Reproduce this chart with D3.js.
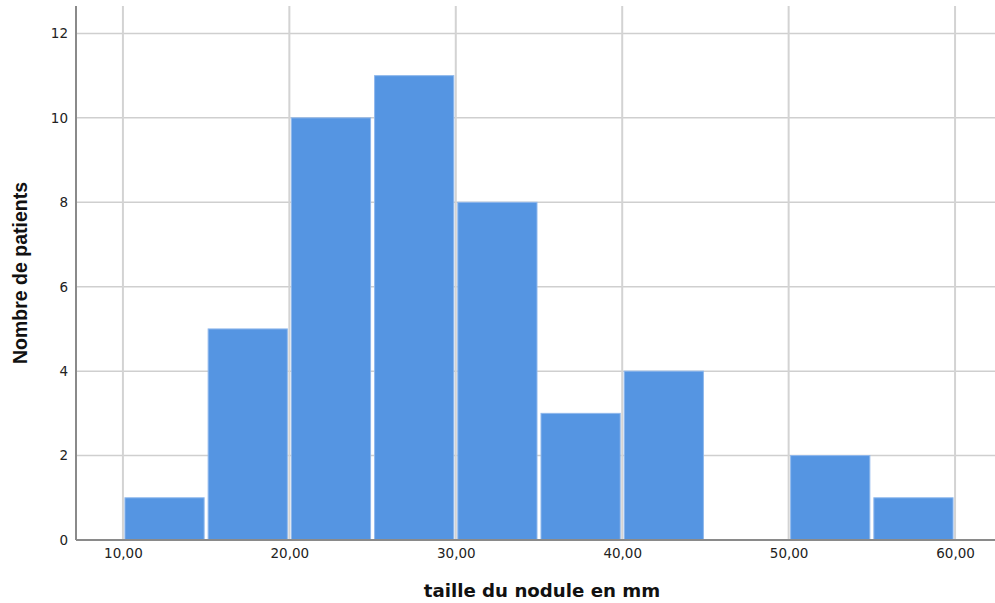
<!DOCTYPE html>
<html><head><meta charset="utf-8">
<script src="https://cdn.jsdelivr.net/npm/d3@7"></script>
<style>body{margin:0;background:#fff;} text{font-family:"DejaVu Sans",Verdana,sans-serif;}</style>
</head><body><svg id="c" width="995" height="603"></svg>
<script>
const binStarts = [10,15,20,25,30,35,40,45,50,55];
const binWidth = 5;
const counts = [1,5,10,11,8,3,4,0,2,1];
const xTicks = [10,20,30,40,50,60];
const yTicks = [0,2,4,6,8,10,12];
const xTickLabels = ["10,00","20,00","30,00","40,00","50,00","60,00"];
const xTitle = "taille du nodule en mm";
const yTitle = "Nombre de patients";

const svg = d3.select("#c");
const L=76, R=995, T=6, B=540;
const x = d3.scaleLinear().domain([7.18,62.4]).range([L,R]);
const y = d3.scaleLinear().domain([0,12.65]).range([B,T]);

// gridlines
svg.append("g").selectAll("line").data(yTicks.filter(d=>d>0)).join("line")
 .attr("x1",L).attr("x2",R).attr("y1",d=>y(d)).attr("y2",d=>y(d))
 .attr("stroke","#cfcfcf").attr("stroke-width",1.5);
svg.append("g").selectAll("line").data(xTicks).join("line")
 .attr("x1",d=>x(d)).attr("x2",d=>x(d)).attr("y1",T).attr("y2",B)
 .attr("stroke","#d3d3d3").attr("stroke-width",2);

// bars
svg.append("g").selectAll("rect").data(binStarts.map((s,i)=>({s,c:counts[i]})).filter(d=>d.c>0)).join("rect")
 .attr("x",d=>x(d.s)+2).attr("width",d=>x(d.s+binWidth)-x(d.s)-4)
 .attr("y",d=>y(d.c)).attr("height",d=>y(0)-y(d.c))
 .attr("fill","#5595e2").attr("stroke","#8fb8ec").attr("stroke-width",1);

// axes
const tickFont = "'DejaVu Sans',Verdana,sans-serif";
const xa = d3.axisBottom(x).tickValues(xTicks).tickFormat((d,i)=>xTickLabels[i]).tickSize(0).tickPadding(8);
const gx = svg.append("g").attr("transform",`translate(0,${B})`).call(xa);
gx.select(".domain").attr("stroke","#8a8a8a").attr("stroke-width",2).attr("d",`M${L},0H${R}`);
gx.selectAll("text").attr("font-size",13.5).attr("fill","#222").style("font-family",tickFont);

const ya = d3.axisLeft(y).tickValues(yTicks).tickSize(0).tickPadding(8);
const gy = svg.append("g").attr("transform",`translate(${L},0)`).call(ya);
gy.select(".domain").attr("stroke","#8a8a8a").attr("stroke-width",2).attr("d",`M0,${T}V${B}`);
gy.selectAll("text").attr("font-size",13.5).attr("fill","#222").style("font-family",tickFont);

svg.append("text").attr("x",542).attr("y",597).attr("text-anchor","middle")
 .style("font-family","'DejaVu Sans',Verdana,sans-serif")
 .attr("font-size",18.2).attr("font-weight","bold").attr("fill","#111").text(xTitle);
svg.append("text").attr("transform","translate(27,273) rotate(-90)").attr("text-anchor","middle")
 .style("font-family","'Liberation Sans',Arial,sans-serif")
 .attr("font-size",19.5).attr("font-weight","bold").attr("fill","#111").text(yTitle);
</script></body></html>
